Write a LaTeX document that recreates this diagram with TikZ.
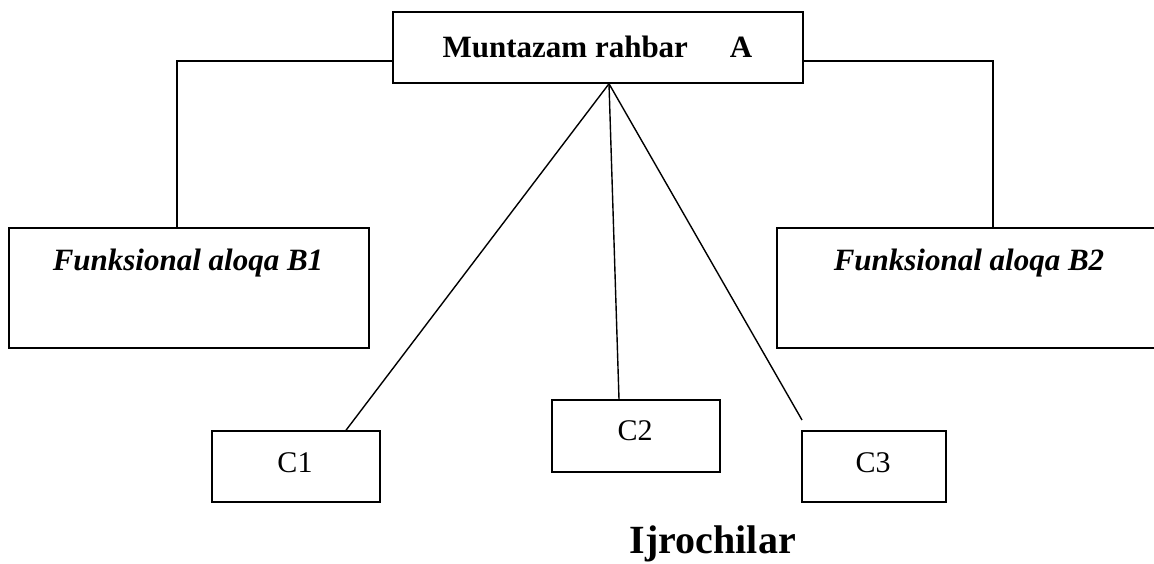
\documentclass[tikz,border=0pt]{standalone}
\usepackage{fontspec}
\setmainfont{Liberation Serif}
\begin{document}
\begin{tikzpicture}[x=1pt,y=-1pt,
  box/.style={draw, line width=1.5pt, inner sep=0pt, rectangle},
  conn/.style={line width=1.4pt},
  lbl/.style={inner sep=0pt, font=\fontsize{31}{37}\selectfont\bfseries},
  flbl/.style={inner sep=0pt, font=\fontsize{31}{37}\selectfont\bfseries\itshape},
  clbl/.style={inner sep=0pt, font=\fontsize{30}{36}\selectfont}]
\useasboundingbox (0,0) rectangle (1154,564);
% boxes
\node[box, minimum width=410pt, minimum height=71pt] (A) at (598,47.5) {};
\node[lbl] (At) at (597.5,47) {Muntazam rahbar\hspace{42pt}A};
\node[box, minimum width=360pt, minimum height=120pt] (B1) at (189,288) {};
\node[flbl, anchor=base] (B1t) at (188,270) {Funksional aloqa B1};
\node[box, minimum width=383pt, minimum height=120pt] (B2) at (968.5,288) {};
\node[flbl, anchor=base] (B2t) at (969,270) {Funksional aloqa B2};
\node[box, minimum width=168pt, minimum height=71pt] (C1) at (296,466.5) {};
\node[clbl] (C1t) at (295,463) {C1};
\node[box, minimum width=168pt, minimum height=72pt] (C2) at (636,436) {};
\node[clbl] (C2t) at (635,431) {C2};
\node[box, minimum width=144pt, minimum height=71pt] (C3) at (874,466.5) {};
\node[clbl] (C3t) at (873,463) {C3};
\node[inner sep=0pt, anchor=base east, font=\fontsize{40}{48}\selectfont\bfseries] (I) at (796,553) {Ijrochilar};
% connectors
\coordinate (apex) at ([xshift=11pt]A.south);
\coordinate (c3end) at (802,420);
\draw[conn] ([yshift=-13.5pt]A.west) -| ([xshift=-12pt]B1.north);
\draw[conn] ([yshift=-13.5pt]A.east) -| ([xshift=24.5pt]B2.north);
\draw[conn] (apex) -- ([xshift=50pt]C1.north);
\draw[conn] (apex) -- ([xshift=-17pt]C2.north);
\draw[conn] (apex) -- (c3end);
\end{tikzpicture}
\end{document}
